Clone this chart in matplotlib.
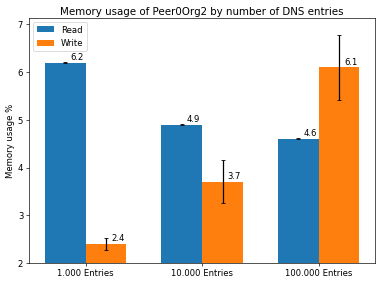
import numpy as np
import matplotlib.pyplot as plt

plt.rcParams["font.size"] = 10.3

# Data
categories = ["1.000 Entries", "10.000 Entries", "100.000 Entries"]
read_vals  = [6.2, 4.9, 4.6]
read_err   = [0.01, 0.01, 0.01]
write_vals = [2.4, 3.7, 6.1]
write_err  = [0.13, 0.45, 0.68]

x     = np.arange(len(categories))
width = 0.35

fig, ax = plt.subplots(figsize=(6.4, 4.76), dpi=59.7)
r1 = ax.bar(x - width / 2, read_vals, width, yerr=read_err, capsize=3,
            label="Read", color="#1f77b4")
r2 = ax.bar(x + width / 2, write_vals, width, yerr=write_err, capsize=3,
            label="Write", color="#ff7f0e")


def autolabel(rects, vals):
    for rect, v in zip(rects, vals):
        ax.annotate(f"{v:.1f}", xy=(rect.get_x() + rect.get_width() / 2, v),
                    xytext=(6, 1), textcoords="offset points",
                    ha="left", va="bottom")


autolabel(r1, read_vals)
autolabel(r2, write_vals)

ax.set_ylim(2, 7.14)
ax.set_xticks(x)
ax.set_xticklabels(categories)
ax.set_ylabel("Memory usage %")
ax.set_title("Memory usage of Peer0Org2 by number of DNS entries", pad=4)
ax.legend(loc="upper left")

fig.subplots_adjust(left=0.076, right=0.982, top=0.937, bottom=0.074)
fig.savefig("out.png", dpi=59.7)
